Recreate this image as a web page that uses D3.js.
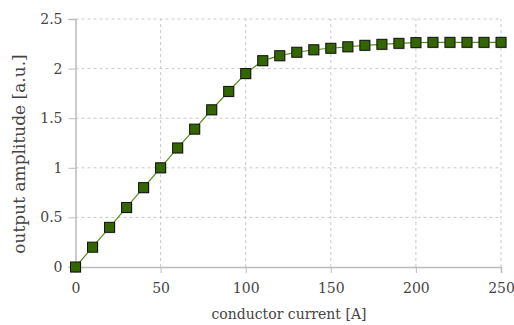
<!DOCTYPE html>
<html>
<head>
<meta charset="utf-8">
<script src="https://cdn.jsdelivr.net/npm/d3@7"></script>
<style>
  body { margin: 0; background: #fff; }
  text { font-family: 'DejaVu Serif', serif; fill: #444; }
</style>
</head>
<body>
<div id="chart"></div>
<script>
const current = [0, 10, 20, 30, 40, 50, 60, 70, 80, 90, 100, 110, 120, 130, 140, 150, 160, 170, 180, 190, 200, 210, 220, 230, 240, 250]
const amplitude = [0, 0.2, 0.4, 0.6, 0.8, 1.0, 1.2, 1.39, 1.585, 1.77, 1.95, 2.08, 2.13, 2.165, 2.19, 2.205, 2.22, 2.235, 2.245, 2.255, 2.262, 2.265, 2.265, 2.265, 2.265, 2.265]
const xTicks = [0, 50, 100, 150, 200, 250]
const yTicks = [0, 0.5, 1, 1.5, 2, 2.5]

const W = 514, H = 325
const M = { LEFT: 75.5, RIGHT: 13, TOP: 19, BOTTOM: 58 }

const data = current.map((c, i) => ({ x: c, y: amplitude[i] }))

const svg = d3.select('#chart').append('svg').attr('width', W).attr('height', H)

const x = d3.scaleLinear().domain([0, 250]).range([M.LEFT, W - M.RIGHT])
const y = d3.scaleLinear().domain([0, 2.5]).range([H - M.BOTTOM, M.TOP])

// grid
svg.append('g')
  .selectAll('line')
  .data(xTicks.slice(1))
  .join('line')
  .attr('x1', d => x(d)).attr('x2', d => x(d))
  .attr('y1', y(0)).attr('y2', y(2.5))
  .attr('stroke', '#c8c8c8').attr('stroke-dasharray', '3,3')

svg.append('g')
  .selectAll('line')
  .data(yTicks.slice(1))
  .join('line')
  .attr('x1', x(0)).attr('x2', x(250))
  .attr('y1', d => y(d)).attr('y2', d => y(d))
  .attr('stroke', '#c8c8c8').attr('stroke-dasharray', '3,3')

// axes
const xAxis = svg.append('g')
  .attr('transform', `translate(0,${y(0)})`)
  .call(d3.axisBottom(x).tickValues(xTicks).tickSize(6).tickPadding(10).tickFormat(d3.format('d')))
xAxis.select('.domain').attr('stroke', '#bbb').attr('stroke-width', 1.5)
xAxis.selectAll('.tick line').attr('stroke', '#bbb')
xAxis.selectAll('text').style('font-size', '14px').attr('fill', '#444').style('font-family', "'DejaVu Serif', serif")

const yAxis = svg.append('g')
  .attr('transform', `translate(${x(0)},0)`)
  .call(d3.axisLeft(y).tickValues(yTicks).tickSize(7).tickPadding(6).tickFormat(d => d))
yAxis.select('.domain').attr('stroke', '#bbb').attr('stroke-width', 1.5)
yAxis.selectAll('.tick line').attr('stroke', '#bbb')
yAxis.selectAll('text').style('font-size', '14px').attr('fill', '#444').style('font-family', "'DejaVu Serif', serif")

// line
svg.append('path')
  .datum(data)
  .attr('d', d3.line().x(d => x(d.x)).y(d => y(d.y)))
  .attr('fill', 'none')
  .attr('stroke', '#5a8a1e')
  .attr('stroke-width', 1.2)

// markers (shadow + square)
svg.append('g')
  .selectAll('rect')
  .data(data)
  .join('rect')
  .attr('x', d => x(d.x) - 5).attr('y', d => y(d.y) - 5)
  .attr('width', 11).attr('height', 11)
  .attr('fill', '#999').attr('opacity', 0.5)

svg.append('g')
  .selectAll('rect')
  .data(data)
  .join('rect')
  .attr('x', d => x(d.x) - 5).attr('y', d => y(d.y) - 5)
  .attr('width', 10).attr('height', 10)
  .attr('fill', '#336600')
  .attr('stroke', '#111')
  .attr('stroke-width', 1)

// axis titles
svg.append('text')
  .attr('x', 289)
  .attr('y', 319)
  .attr('text-anchor', 'middle')
  .style('font-size', '14px')
  .text('conductor current [A]')

svg.append('text')
  .attr('transform', 'translate(25,154) rotate(-90)')
  .attr('text-anchor', 'middle')
  .style('font-size', '17px')
  .text('output amplitude [a.u.]')
</script>
</body>
</html>
